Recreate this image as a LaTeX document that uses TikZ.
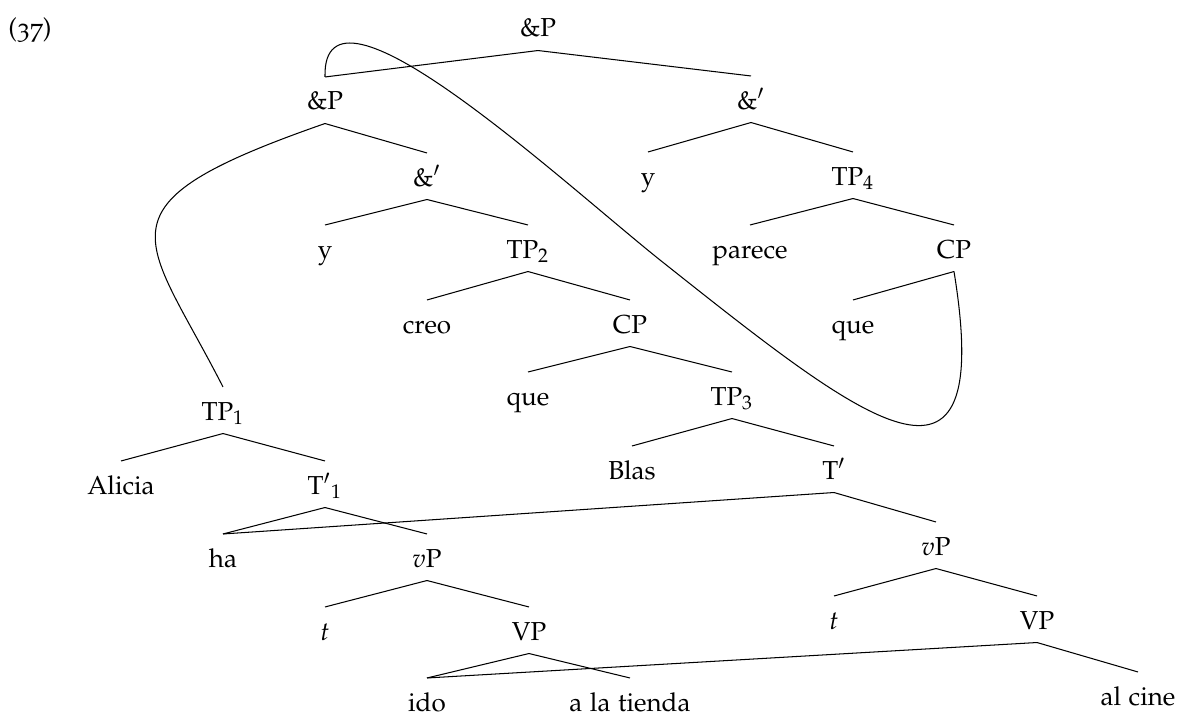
\documentclass[tikz,border=0pt]{standalone}
\usepackage[T1]{fontenc}
\usepackage[osf]{mathpazo}

\tikzset{
  cat/.style={anchor=base, inner sep=2pt, text height=10.5pt, text depth=3pt},
  branch/.style={line width=0.4pt}
}

\begin{document}
\begin{tikzpicture}[x=0.3846pt,y=-0.3846pt]
        \useasboundingbox (0,0) rectangle (1179,718);

        % Example number
        \node[cat] (num) at (30,37) {(37)};

        % Root
        \node[cat] (topP) at (538,37) {\&P};

        % First conjunct
        \node[cat] (andP) at (325,110) {\&P};
        \node[cat] (andbar) at (427,186) {\&$'$};
        \node[cat] (y1) at (325,258) {y};
        \node[cat] (tp2) at (528,258) {TP$_2$};
        \node[cat] (creo) at (427,333) {creo};
        \node[cat] (cp1) at (630,333) {CP};
        \node[cat] (que1) at (528,405) {que};
        \node[cat] (tp3) at (732,405) {TP$_3$};
        \node[cat] (blas) at (632,479) {Blas};
        \node[cat] (tbar) at (834,479) {T$'$};
        \node[cat] (vp2) at (936,555) {$v$P};
        \node[cat] (t2) at (834,629) {$t$};
        \node[cat] (VP2) at (1037,629) {VP};
        \node[cat] (alcine) at (1138,705) {al cine};

        % Lower clause
        \node[cat] (tp1) at (223,420) {TP$_1$};
        \node[cat] (alicia) at (121,494) {Alicia};
        \node[cat] (tbar1) at (325,494) {T$'{}_1$};
        \node[cat] (ha) at (223,567) {ha};
        \node[cat] (vp1) at (427,567) {$v$P};
        \node[cat] (t1) at (325,640) {$t$};
        \node[cat] (VP1) at (529,640) {VP};
        \node[cat] (ido) at (427,711) {ido};
        \node[cat] (tienda) at (630,711) {a la tienda};

        % Second conjunct
        \node[cat] (andbar2) at (751,109) {\&$'$};
        \node[cat] (y2) at (648,185) {y};
        \node[cat] (tp4) at (853,185) {TP$_4$};
        \node[cat] (parece) at (750,258) {parece};
        \node[cat] (cp2) at (954,258) {CP};
        \node[cat] (que2) at (853,333) {que};

        % Branches
        \draw[branch] (topP.south) -- (andP.north);
        \draw[branch] (topP.south) -- (andbar2.north);
        \draw[branch] (andP.south) -- (andbar.north);
        \draw[branch] (andbar.south) -- (y1.north);
        \draw[branch] (andbar.south) -- (tp2.north);
        \draw[branch] (tp2.south) -- (creo.north);
        \draw[branch] (tp2.south) -- (cp1.north);
        \draw[branch] (cp1.south) -- (que1.north);
        \draw[branch] (cp1.south) -- (tp3.north);
        \draw[branch] (tp3.south) -- (blas.north);
        \draw[branch] (tp3.south) -- (tbar.north);
        \draw[branch] (tbar.south) -- (ha.north);
        \draw[branch] (tbar.south) -- (vp2.north);
        \draw[branch] (vp2.south) -- (t2.north);
        \draw[branch] (vp2.south) -- (VP2.north);
        \draw[branch] (VP2.south) -- (ido.north);
        \draw[branch] (VP2.south) -- (alcine.north);

        \draw[branch] (tp1.south) -- (alicia.north);
        \draw[branch] (tp1.south) -- (tbar1.north);
        \draw[branch] (tbar1.south) -- (ha.north);
        \draw[branch] (tbar1.south) -- (vp1.north);
        \draw[branch] (vp1.south) -- (t1.north);
        \draw[branch] (vp1.south) -- (VP1.north);
        \draw[branch] (VP1.south) -- (ido.north);
        \draw[branch] (VP1.south) -- (tienda.north);

        \draw[branch] (andbar2.south) -- (y2.north);
        \draw[branch] (andbar2.south) -- (tp4.north);
        \draw[branch] (tp4.south) -- (parece.north);
        \draw[branch] (tp4.south) -- (cp2.north);
        \draw[branch] (cp2.south) -- (que2.north);

        % Shared daughters
        \draw[branch] (andP.south) .. controls (88,206) and +(-78,-153) .. (tp1.north);
        \coordinate (mid) at (660,260);
        \draw[branch] (andP.north) .. controls +(-3,-118) and (560,180) .. (mid)
                .. controls (863,421) and +(42,257) .. (cp2.south);

\end{tikzpicture}
\end{document}
